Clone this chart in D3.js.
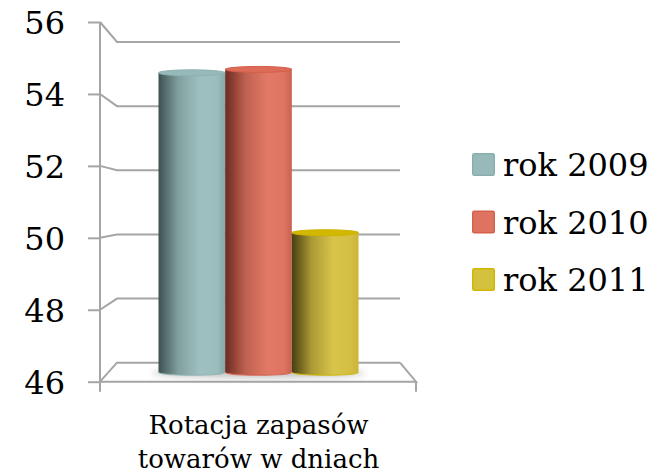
<!DOCTYPE html>
<html><head><meta charset="utf-8">
<script src="https://cdn.jsdelivr.net/npm/d3@7"></script>
<style>body{margin:0;background:#fff}svg{display:block}</style>
</head><body>
<svg id="c" width="670" height="473"></svg>
<script>
const categories = ["Rotacja zapasów towarów w dniach"];
const categoryLines = ["Rotacja zapasów", "towarów w dniach"];
const seriesNames = ["rok 2009", "rok 2010", "rok 2011"];
const seriesValues = [54.8, 54.9, 50.1];
const tickValues = [46, 48, 50, 52, 54, 56];

const colors = [
  {dark:"#3c5252", mid:"#9dbdbd", light:"#9fc0c0", right:"#86a8a8", top:"#98b9b9", edge:"#8cb2b2", legend:"#97b9b9", legendEdge:"#8aadad"},
  {dark:"#6a2b22", mid:"#df7462", light:"#e27866", right:"#c86250", top:"#dc6c58", edge:"#d65e48", legend:"#df7361", legendEdge:"#d6604b"},
  {dark:"#463f12", mid:"#d4bf42", light:"#d8c44a", right:"#cbb43a", top:"#d2b800", edge:"#cdb300", legend:"#d4c23f", legendEdge:"#d2b600"}
];

const svg = d3.select("#c");
const defs = svg.append("defs");

const yFront = d3.scaleLinear().domain([46, 56]).range([381.7, 22]);
const yBack = d3.scaleLinear().domain([46, 56]).range([362.7, 42]);
const yMid = d3.scaleLinear().domain([46, 56]).range([372.2, 32]);
const xFrontL = 100, xFrontR = 416, xBackL = 117, xBackR = 400;

const xCat = d3.scaleBand().domain(categories).range([108.5, 408.5]);
const xSer = d3.scaleBand().domain(seriesNames).range([0, xCat.bandwidth()]).paddingOuter(0.75);

const grid = svg.append("g").attr("stroke", "#a5a5a5").attr("stroke-width", 2).attr("fill", "none");
tickValues.forEach(v => {
  grid.append("path").attr("d", `M${xFrontL},${yFront(v)}L${xBackL},${yBack(v)}L${xBackR},${yBack(v)}`);
});
grid.append("path").attr("d", `M${xFrontL},${yFront(46)}L${xFrontR},${yFront(46)}L${xBackR},${yBack(46)}`);
grid.append("line").attr("x1", xFrontL).attr("x2", xFrontL).attr("y1", yFront(56)).attr("y2", yFront(46) + 10);
grid.append("line").attr("x1", xFrontR).attr("x2", xFrontR).attr("y1", yFront(46)).attr("y2", yFront(46) + 10);

const axis = d3.axisLeft(yFront).tickValues(tickValues).tickSize(12).tickPadding(23).tickFormat(d3.format("d"));
const ag = svg.append("g").attr("transform", `translate(${xFrontL},0)`).call(axis);
ag.select(".domain").remove();
ag.selectAll(".tick line").attr("stroke", "#a5a5a5").attr("stroke-width", 2);
ag.selectAll(".tick text").attr("font-family", "DejaVu Serif").attr("font-size", 32).attr("fill", "#000").attr("dy", "0.36em");

const f = defs.append("filter").attr("id", "blur").attr("x", "-20%").attr("y", "-200%").attr("width", "140%").attr("height", "500%");
f.append("feGaussianBlur").attr("stdDeviation", 3);

const bars = svg.append("g");
const ry = 3;
bars.append("ellipse")
  .attr("cx", xCat(categories[0]) + xCat.bandwidth() / 2)
  .attr("cy", yMid(46) + 1)
  .attr("rx", xSer.bandwidth() * 1.6)
  .attr("ry", 5)
  .attr("fill", "#9a9a9a").attr("opacity", 0.55).attr("filter", "url(#blur)");

seriesNames.forEach((s, i) => {
  const c = colors[i];
  const g = defs.append("linearGradient").attr("id", "g" + i).attr("x1", 0).attr("x2", 1).attr("y1", 0).attr("y2", 0);
  g.append("stop").attr("offset", "0%").attr("stop-color", c.dark);
  g.append("stop").attr("offset", "30%").attr("stop-color", d3.interpolateRgb(c.dark, c.mid)(0.72));
  g.append("stop").attr("offset", "62%").attr("stop-color", c.light);
  g.append("stop").attr("offset", "88%").attr("stop-color", c.mid);
  g.append("stop").attr("offset", "100%").attr("stop-color", c.right);

  const x0 = xCat(categories[0]) + xSer(s);
  const w = xSer.bandwidth();
  const yt = yMid(seriesValues[i]);
  const yb = yMid(46);
  const rx = w / 2;
  bars.append("path")
    .attr("d", `M${x0},${yt}L${x0},${yb}A${rx},${ry} 0 0 0 ${x0 + w},${yb}L${x0 + w},${yt}Z`)
    .attr("fill", `url(#g${i})`);
  bars.append("path")
    .attr("d", `M${x0},${yb}A${rx},${ry} 0 0 0 ${x0 + w},${yb}`)
    .attr("fill", "none").attr("stroke", c.edge).attr("stroke-width", 1.2).attr("opacity", 0.8);
  bars.append("ellipse")
    .attr("cx", x0 + rx).attr("cy", yt).attr("rx", rx).attr("ry", ry)
    .attr("fill", c.top).attr("stroke", c.edge).attr("stroke-width", 1);
});

const cx = xCat(categories[0]) + xCat.bandwidth() / 2;
svg.append("g").selectAll("text").data(categoryLines).join("text")
  .attr("x", cx).attr("y", (d, i) => 434 + i * 34)
  .attr("text-anchor", "middle").attr("font-family", "DejaVu Serif").attr("font-size", 26).attr("fill", "#000")
  .text(d => d);

const lg = svg.append("g").selectAll("g").data(seriesNames).join("g")
  .attr("transform", (d, i) => `translate(472,${153 + i * 57.5})`);
lg.append("rect").attr("x", 0.75).attr("y", 0.75).attr("width", 21.5).attr("height", 21.5).attr("rx", 1.5)
  .attr("fill", (d, i) => colors[i].legend).attr("stroke", (d, i) => colors[i].legendEdge).attr("stroke-width", 1.5);
lg.append("text").attr("x", 31).attr("y", 23).attr("font-family", "DejaVu Serif").attr("font-size", 32).attr("fill", "#000")
  .text(d => d);
</script>
</body></html>
